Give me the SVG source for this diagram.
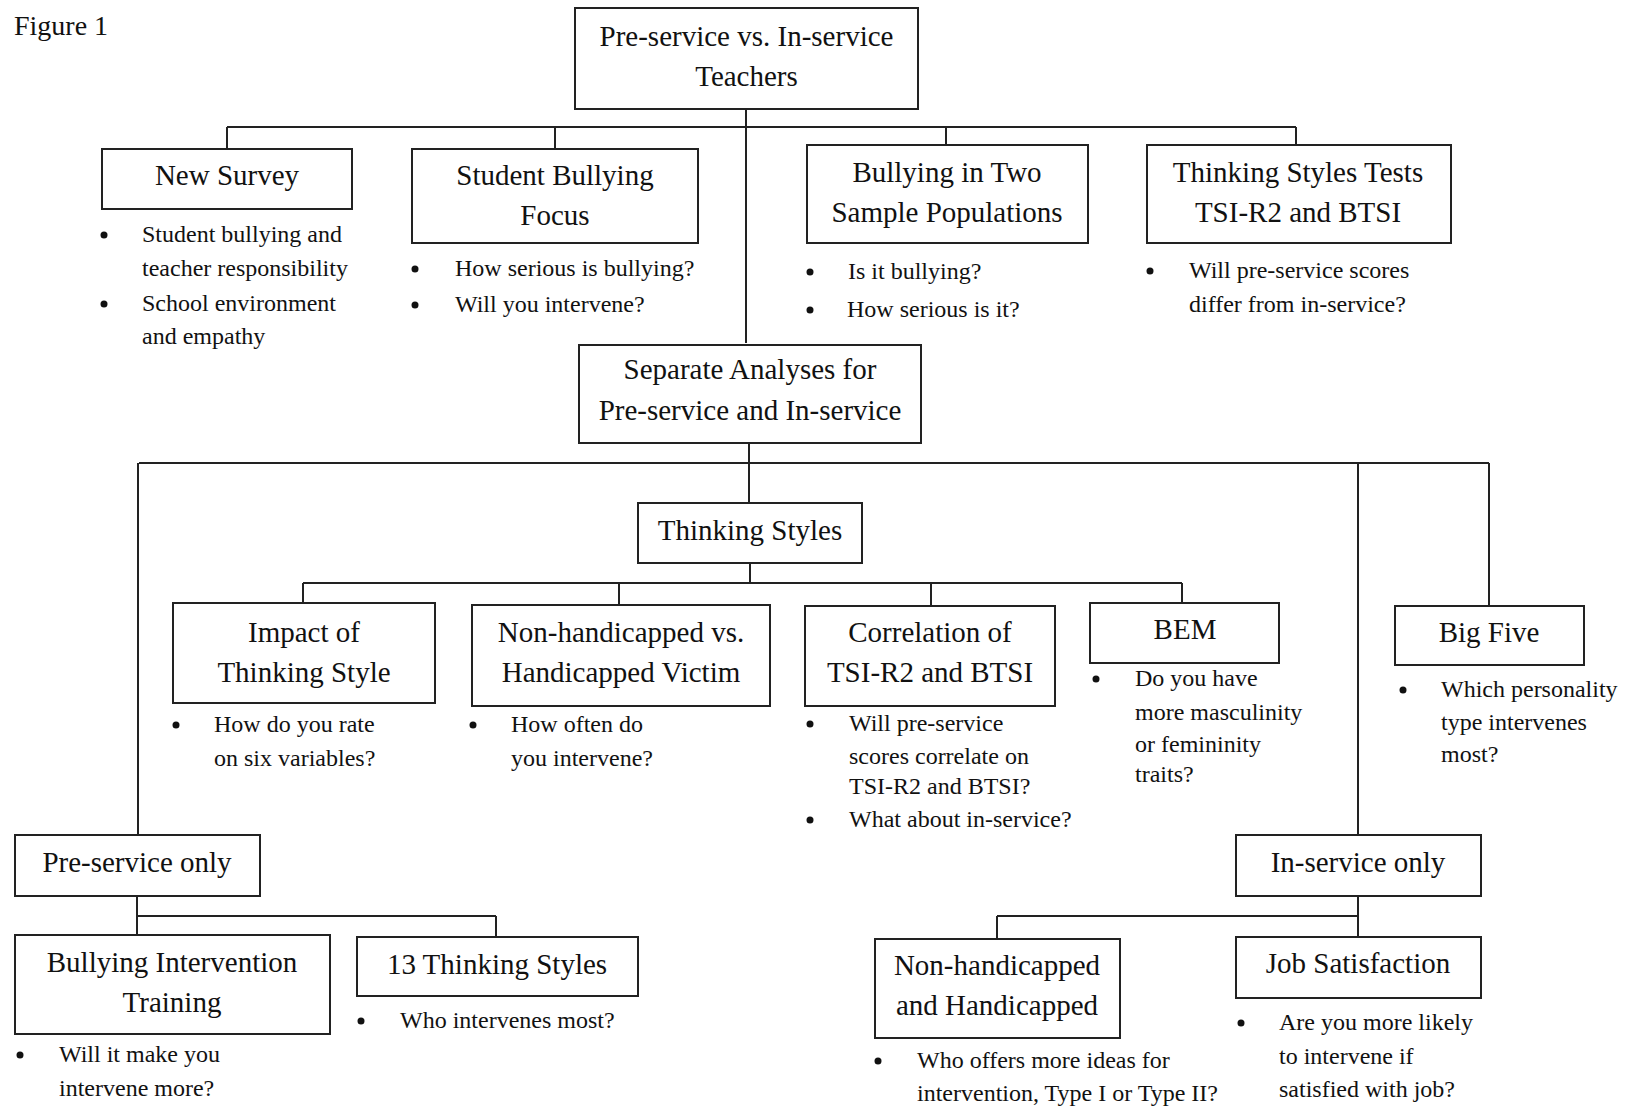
<svg xmlns="http://www.w3.org/2000/svg" width="1625" height="1107" viewBox="0 0 1625 1107">
<style>
.bg{fill:#fff}
.box{fill:#fff;stroke:#222;stroke-width:2}
.ln{fill:none;stroke:#222;stroke-width:2}
.lb{font-family:"Liberation Serif","Times New Roman",serif;font-size:29px;fill:#111;text-anchor:middle}
.bt{font-family:"Liberation Serif","Times New Roman",serif;font-size:24px;fill:#111}
.fig{font-family:"Liberation Serif","Times New Roman",serif;font-size:28px;fill:#111}
.dot{fill:#111}
</style>
<rect class="bg" x="0" y="0" width="1625" height="1107"/>
<text class="fig" x="14" y="35">Figure 1</text>

<g id="connectors">
<path class="ln" d="M746,109 V343"/>
<path class="ln" d="M227,127 H1296 M227,127 V149 M555,127 V149 M946,127 V145 M1296,127 V145"/>
<path class="ln" d="M749,443 V503"/>
<path class="ln" d="M139,463 H1489 M138,463 V835 M1358,463 V835 M1489,463 V605"/>
<path class="ln" d="M750,563 V583 M303,583 H1182 M303,583 V603 M619,583 V605 M931,583 V606 M1182,583 V603"/>
<path class="ln" d="M137,896 V935 M137,916 H496 M496,916 V937"/>
<path class="ln" d="M1358,896 V937 M997,916 H1358 M997,916 V939"/>
</g>

<g id="n-title">
<rect class="box" x="575" y="8" width="343" height="101"/>
<text class="lb" x="746.5" y="46">Pre-service vs. In-service</text>
<text class="lb" x="746.5" y="86">Teachers</text>
</g>

<g id="n-newsurvey">
<rect class="box" x="102" y="149" width="250" height="60"/>
<text class="lb" x="227" y="185">New Survey</text>
<circle class="dot" cx="104" cy="235" r="3.5"/>
<text class="bt" x="142" y="242">Student bullying and</text>
<text class="bt" x="142" y="276">teacher responsibility</text>
<circle class="dot" cx="104" cy="304" r="3.5"/>
<text class="bt" x="142" y="311">School environment</text>
<text class="bt" x="142" y="344">and empathy</text>
</g>

<g id="n-studentbullying">
<rect class="box" x="412" y="149" width="286" height="94"/>
<text class="lb" x="555" y="185">Student Bullying</text>
<text class="lb" x="555" y="225">Focus</text>
<circle class="dot" cx="415" cy="269" r="3.5"/>
<text class="bt" x="455" y="276">How serious is bullying?</text>
<circle class="dot" cx="415" cy="305" r="3.5"/>
<text class="bt" x="455" y="312">Will you intervene?</text>
</g>

<g id="n-bullyingtwo">
<rect class="box" x="807" y="145" width="281" height="98"/>
<text class="lb" x="947" y="182">Bullying in Two</text>
<text class="lb" x="947" y="222">Sample Populations</text>
<circle class="dot" cx="810" cy="272" r="3.5"/>
<text class="bt" x="848" y="279">Is it bullying?</text>
<circle class="dot" cx="810" cy="310" r="3.5"/>
<text class="bt" x="847" y="317">How serious is it?</text>
</g>

<g id="n-tstests">
<rect class="box" x="1147" y="145" width="304" height="98"/>
<text class="lb" x="1298" y="182">Thinking Styles Tests</text>
<text class="lb" x="1298" y="222">TSI-R2 and BTSI</text>
<circle class="dot" cx="1150" cy="271" r="3.5"/>
<text class="bt" x="1189" y="278">Will pre-service scores</text>
<text class="bt" x="1189" y="312">differ from in-service?</text>
</g>

<g id="n-separate">
<rect class="box" x="579" y="345" width="342" height="98"/>
<text class="lb" x="750" y="379">Separate Analyses for</text>
<text class="lb" x="750" y="420">Pre-service and In-service</text>
</g>

<g id="n-thinkingstyles">
<rect class="box" x="638" y="503" width="224" height="60"/>
<text class="lb" x="750" y="540">Thinking Styles</text>
</g>

<g id="n-impact">
<rect class="box" x="173" y="603" width="262" height="100"/>
<text class="lb" x="304" y="642">Impact of</text>
<text class="lb" x="304" y="682">Thinking Style</text>
<circle class="dot" cx="176" cy="725" r="3.5"/>
<text class="bt" x="214" y="732">How do you rate</text>
<text class="bt" x="214" y="766">on six variables?</text>
</g>

<g id="n-nonhandvs">
<rect class="box" x="472" y="605" width="298" height="101"/>
<text class="lb" x="621" y="642">Non-handicapped vs.</text>
<text class="lb" x="621" y="682">Handicapped Victim</text>
<circle class="dot" cx="473" cy="725" r="3.5"/>
<text class="bt" x="511" y="732">How often do</text>
<text class="bt" x="511" y="766">you intervene?</text>
</g>

<g id="n-correlation">
<rect class="box" x="805" y="606" width="250" height="100"/>
<text class="lb" x="930" y="642">Correlation of</text>
<text class="lb" x="930" y="682">TSI-R2 and BTSI</text>
<circle class="dot" cx="810" cy="724" r="3.5"/>
<text class="bt" x="849" y="731">Will pre-service</text>
<text class="bt" x="849" y="764">scores correlate on</text>
<text class="bt" x="849" y="794">TSI-R2 and BTSI?</text>
<circle class="dot" cx="810" cy="820" r="3.5"/>
<text class="bt" x="849" y="827">What about in-service?</text>
</g>

<g id="n-bem">
<rect class="box" x="1090" y="603" width="189" height="60"/>
<text class="lb" x="1185" y="639">BEM</text>
<circle class="dot" cx="1096" cy="679" r="3.5"/>
<text class="bt" x="1135" y="686">Do you have</text>
<text class="bt" x="1135" y="720">more masculinity</text>
<text class="bt" x="1135" y="752">or femininity</text>
<text class="bt" x="1135" y="782">traits?</text>
</g>

<g id="n-bigfive">
<rect class="box" x="1395" y="606" width="189" height="59"/>
<text class="lb" x="1489" y="642">Big Five</text>
<circle class="dot" cx="1403" cy="690" r="3.5"/>
<text class="bt" x="1441" y="697">Which personality</text>
<text class="bt" x="1441" y="730">type intervenes</text>
<text class="bt" x="1441" y="762">most?</text>
</g>

<g id="n-preservice">
<rect class="box" x="15" y="835" width="245" height="61"/>
<text class="lb" x="137" y="872">Pre-service only</text>
</g>

<g id="n-bit">
<rect class="box" x="15" y="935" width="315" height="99"/>
<text class="lb" x="172" y="972">Bullying Intervention</text>
<text class="lb" x="172" y="1012">Training</text>
<circle class="dot" cx="20" cy="1055" r="3.5"/>
<text class="bt" x="59" y="1062">Will it make you</text>
<text class="bt" x="59" y="1096">intervene more?</text>
</g>

<g id="n-13ts">
<rect class="box" x="357" y="937" width="281" height="59"/>
<text class="lb" x="497" y="974">13 Thinking Styles</text>
<circle class="dot" cx="361" cy="1021" r="3.5"/>
<text class="bt" x="400" y="1028">Who intervenes most?</text>
</g>

<g id="n-inservice">
<rect class="box" x="1236" y="835" width="245" height="61"/>
<text class="lb" x="1358" y="872">In-service only</text>
</g>

<g id="n-nonhandand">
<rect class="box" x="875" y="939" width="245" height="99"/>
<text class="lb" x="997" y="975">Non-handicapped</text>
<text class="lb" x="997" y="1015">and Handicapped</text>
<circle class="dot" cx="878" cy="1061" r="3.5"/>
<text class="bt" x="917" y="1068">Who offers more ideas for</text>
<text class="bt" x="917" y="1101">intervention, Type I or Type II?</text>
</g>

<g id="n-jobsat">
<rect class="box" x="1236" y="937" width="245" height="61"/>
<text class="lb" x="1358" y="973">Job Satisfaction</text>
<circle class="dot" cx="1241" cy="1023" r="3.5"/>
<text class="bt" x="1279" y="1030">Are you more likely</text>
<text class="bt" x="1279" y="1064">to intervene if</text>
<text class="bt" x="1279" y="1097">satisfied with job?</text>
</g>
</svg>
